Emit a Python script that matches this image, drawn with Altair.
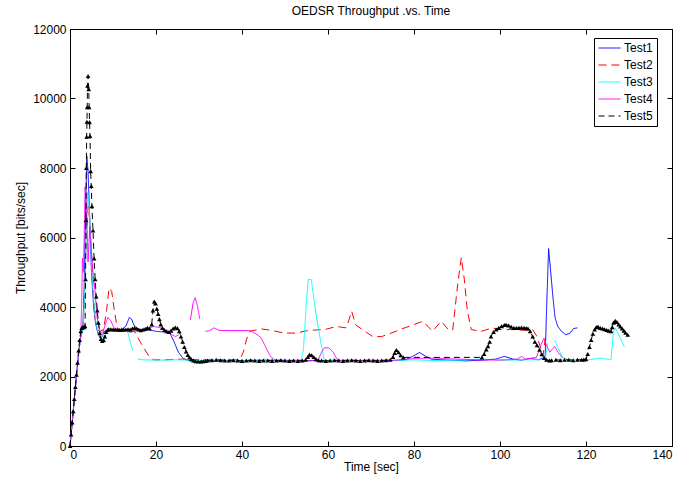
import altair as alt
import pandas as pd

SERIES = ["Test1", "Test2", "Test3", "Test4", "Test5"]
COLORS = ["#0000ff", "#ff0000", "#00ffff", "#ff00ff", "#000000"]
DASHES = [[1, 0], [8, 5], [1, 0], [1, 0], [6, 4]]
XTICKS = [0, 20, 40, 60, 80, 100, 120, 140]
YTICKS = [0, 2000, 4000, 6000, 8000, 10000, 12000]

# (time [sec], throughput [bits/sec]); None marks a gap in the recorded trace
test1 = [(0, 0), (0.5, 650), (1, 1350), (1.5, 2000), (2, 2650), (2.5, 3150), (3, 3400), (3.3, 4600),
         (3.6, 6600), (3.9, 8350), (4.2, 7900), (4.6, 6500), (5, 5000), (5.5, 4000), (6, 3500), (6.5, 3250),
         (7, 3100), (7.5, 3150), (8, 3300), (9, 3350), (10, 3350), (12, 3350), (13, 3450), (13.8, 3700),
         (14.3, 3650), (15, 3450), (16, 3350), (18, 3350), (20, 3300), (22, 3280), (23.2, 3250), (24.2, 3000),
         (25.2, 2700), (26.3, 2520), (27.5, 2460), (29, 2440), (32, 2450), (36, 2460), (40, 2450), (45, 2470),
         (50, 2450), (55, 2460), (60, 2450), (65, 2470), (70, 2450), (75, 2460), (78, 2480), (80, 2600),
         (81.3, 2690), (82.5, 2600), (84, 2500), (88, 2470), (92, 2450), (96, 2470), (99, 2500), (101, 2580),
         (103, 2500), (105, 2470), (107, 2520), (109, 2480), (110.5, 2560), (110.9, 4200), (111.3, 5680),
         (111.8, 5000), (112.3, 4300), (112.8, 3700), (113.4, 3450), (114.3, 3300), (115.3, 3200),
         (116.3, 3250), (117.1, 3380), (118, 3400)]

test2 = [(0, 0), (0.5, 650), (1, 1350), (1.5, 2000), (2, 2650), (2.5, 3150), (3, 3350), (3.4, 4500),
         (3.8, 6000), (4.2, 6900), (4.6, 6500), (5, 5500), (5.4, 4400), (5.8, 3700), (6.3, 3350), (7, 3300),
         (7.8, 3350), (8.5, 3900), (9.1, 4550), (9.7, 4450), (10.3, 3900), (11, 3400), (12, 3300),
         (13.5, 3280), (15, 3300), (16.3, 3000), (17.3, 2800), (18.5, 2550), (19.5, 2480), (22, 2480),
         (26, 2500), (30, 2480), (35, 2480), (39.5, 2480), (40.3, 2700), (41, 3050), (41.8, 3300),
         (44.4, 3370), (46.8, 3330), (49.8, 3250), (52.5, 3250), (55.7, 3330), (59.2, 3350), (62, 3440),
         (64.2, 3400), (64.8, 3600), (65.5, 3880), (66.4, 3490), (68, 3350), (70.4, 3150), (72.5, 3150),
         (75.8, 3300), (76.7, 3350), (79, 3450), (82.1, 3590), (84.3, 3300), (86.3, 3590), (88, 3350),
         (89, 3330), (90.2, 4700), (91, 5420), (91.7, 4800), (92.4, 3900), (93.3, 3350), (95.6, 3300),
         (98.3, 3400), (100, 3350), (103, 3350), (105.5, 3330), (107.6, 3350), (108.6, 3150), (109.4, 2850),
         (110, 2600), (110.6, 3150)]

test3 = [(0, 0), (0.5, 650), (1, 1350), (1.5, 2000), (2, 2650), (2.5, 3150), (3, 3350), (3.4, 4300),
         (3.8, 6200), (4.1, 7300), (4.5, 6800), (5, 5300), (5.5, 4200), (6, 3600), (6.5, 3300), (7, 3200),
         (7.5, 3150), (8, 3250), (9, 3350), (11, 3350), (13, 3330), (13.5, 3250), (14, 3000), (14.6, 2750),
         None,
         (15.8, 2500), (17, 2480), (20, 2470), (25, 2480), (30, 2460), (35, 2470), (40, 2460), (45, 2480),
         (50, 2470), (53.8, 2480), (54.3, 2800), (55, 4200), (55.4, 4790), (56.1, 4790), (57.3, 3730),
         (58.3, 3000), (59.2, 2430), (60, 2470), (66, 2460), (70, 2480), (75, 2460), (80, 2480), (85, 2460),
         (90, 2470), (95.6, 2500), (96.5, 2700), (97.2, 2900),
         None,
         (99, 2480), (102, 2470), (106, 2480), (109, 2480), (110.5, 2500), (111.1, 2950),
         None,
         (112.7, 3050), (113.6, 2800), (114.6, 2540), (116, 2480), (120, 2470), (123.5, 2530),
         (125.8, 2480), (126.4, 3300), (126.8, 3400), (127.8, 3150), (128.9, 2860)]

test4 = [(0, 0), (0.5, 650), (1, 1350), (1.5, 2000), (2, 2650), (2.5, 3200), (2.7, 4000), (2.9, 5400),
         (3.1, 5000), (3.3, 6000), (3.5, 7450), (3.8, 7000), (4.2, 5300), (4.6, 6300), (5, 5600), (5.4, 4900),
         (5.8, 4500), (6.3, 3700), (7, 3300), (7.6, 3250), (8.2, 3500), (8.8, 3700), (9.5, 3600),
         (10.3, 3380), (11, 3350), (13, 3350), (14, 3280), (15, 3300), (17, 3350), (18.5, 3400), (19.5, 3440),
         (21, 3400), (22.5, 3300), (23.5, 3220), (24.5, 3150), (25.3, 3200),
         None,
         (28, 3630), (28.6, 4100), (29.1, 4270), (29.6, 4050), (30.2, 3650),
         None,
         (31.5, 3300), (32.5, 3320), (33.5, 3400), (34.6, 3330), (37, 3320), (40, 3320), (41.8, 3320),
         (43, 3250), (44.4, 3120), (45.5, 2850), (46.6, 2580), (47.6, 2480), (48.7, 2440), (52, 2450),
         (56, 2450), (57.8, 2500), (58.5, 2700), (59.2, 2830), (60.2, 2820), (61.2, 2700), (62, 2520),
         (63, 2450), (68, 2460), (72, 2450), (76, 2470), (80, 2520), (85, 2530), (90, 2500), (95, 2480),
         (100, 2470), (104, 2500), (105, 2576), (106, 2500), (108.5, 2550), (109.5, 2900), (110.2, 3100),
         (110.8, 2900), (111.6, 2700), (112.7, 2865), (113.5, 2700), (114.6, 2530)]

test5 = [(0, 0), (0.25, 330), (0.5, 680), (0.75, 1000), (1, 1350), (1.25, 1700), (1.5, 2050), (1.75, 2400),
         (2, 2750), (2.25, 3050), (2.5, 3300), (2.75, 3400), (3, 3420), (3.25, 3420), (3.5, 3450),
         (3.62, 4800), (3.72, 6500), (3.8, 8000), (3.87, 8900), (3.94, 9330), (4.0, 9750), (4.07, 10370),
         (4.2, 10650), (4.35, 10270), (4.45, 9750), (4.55, 9320), (4.65, 8920), (4.8, 7910), (4.95, 7480),
         (5.1, 6900), (5.35, 6200), (5.6, 5400), (5.85, 4800), (6.1, 4300), (6.35, 3900), (6.6, 3550),
         (6.9, 3250), (7.2, 3080), (7.5, 3020), (7.8, 3050), (8.1, 3150), (8.4, 3280), (8.7, 3340),
         (9.0, 3360), (9.5, 3360), (10, 3350), (10.5, 3350), (11, 3350), (11.5, 3340), (12, 3350),
         (12.5, 3350), (13, 3350), (13.5, 3360), (14, 3350), (14.5, 3380), (15, 3400), (15.5, 3380),
         (16, 3350), (16.5, 3330), (17, 3350), (17.5, 3370), (18, 3400), (18.5, 3380), (19, 3500),
         (19.3, 3900), (19.6, 4160), (19.9, 4100), (20.2, 3950), (20.5, 3800), (20.8, 3650), (21.1, 3500),
         (21.5, 3400), (22, 3340), (22.5, 3300), (23, 3280), (23.5, 3320), (24, 3380), (24.5, 3410),
         (25, 3390), (25.4, 3300), (25.8, 3150), (26.2, 3000), (26.6, 2850), (27, 2720), (27.4, 2620),
         (27.8, 2550), (28.2, 2500), (28.7, 2460), (29.2, 2440), (29.8, 2430), (30.5, 2430), (31, 2440),
         (31.5, 2450), (32, 2460), (33, 2470), (34, 2480), (35, 2470), (36, 2460), (37, 2460), (38, 2470),
         (39, 2460), (40, 2450), (41, 2460), (42, 2470), (43, 2460), (44, 2450), (45, 2460), (46, 2460),
         (47, 2450), (48, 2460), (49, 2470), (50, 2460), (51, 2450), (52, 2460), (53, 2450), (54, 2460),
         (54.8, 2480), (55.3, 2560), (55.7, 2630), (56.2, 2610), (56.7, 2560), (57.2, 2500), (57.8, 2470),
         (58.5, 2460), (59.5, 2450), (60.5, 2460), (61.5, 2470), (62.5, 2460), (63.5, 2450), (64.5, 2460),
         (65.5, 2470), (66.5, 2460), (67.5, 2450), (68.5, 2460), (69.5, 2470), (70.5, 2460), (71.5, 2450),
         (72.5, 2460), (73.5, 2470), (74.5, 2480), (75.1, 2560), (75.5, 2680), (75.9, 2760), (76.4, 2700),
         (76.9, 2610), (77.5, 2550), (95.8, 2550), (96.3, 2650), (96.8, 2780), (97.2, 2870), (97.6, 3000),
         (97.9, 3150), (98.5, 3280), (99.1, 3350), (99.7, 3400), (100.4, 3450), (101, 3480), (101.4, 3490),
         (102, 3470), (102.6, 3430), (103.2, 3400), (103.8, 3395), (104.4, 3400), (105, 3410), (105.6, 3400),
         (106.1, 3390), (106.5, 3380), (107, 3300), (107.6, 3150), (108.1, 3000), (108.6, 2900),
         (109.2, 2770), (109.7, 2640), (110.3, 2530), (110.8, 2480), (111.5, 2460), (112, 2470), (113, 2480),
         (114, 2470), (115, 2480), (116, 2480), (117, 2470), (118, 2480), (119, 2480), (119.5, 2490),
         (120, 2500), (120.4, 2650), (120.8, 2850), (121.2, 3050), (121.6, 3230), (122, 3350), (122.4, 3420),
         (122.8, 3430), (123.3, 3400), (123.8, 3380), (124.3, 3360), (124.8, 3340), (125.3, 3320),
         (125.8, 3300), (126.1, 3420), (126.4, 3550), (126.8, 3600), (127.2, 3570), (127.6, 3500),
         (128, 3440), (128.4, 3380), (128.8, 3320), (129.2, 3260), (129.7, 3200)]

rows = []
for name, pts in zip(SERIES, [test1, test2, test3, test4, test5]):
    seg = 0
    for i, p in enumerate(pts):
        if p is None:
            seg += 1
            continue
        rows.append({"series": name, "t": p[0], "v": p[1], "seg": f"{name}-{seg}", "order": i})
df = pd.DataFrame(rows)

FONT = "Liberation Sans"
xscale = alt.Scale(domain=[0, 140], nice=False, zero=False)
yscale = alt.Scale(domain=[0, 12000], nice=False)
TICK = alt.ExprRef("-5")

legend = alt.Legend(
    title=None, orient="none", legendX=524, legendY=9,
    symbolType="stroke", symbolSize=484, symbolStrokeWidth=1, clipHeight=12, rowPadding=5,
    labelFont=FONT, labelFontSize=12, labelColor="black", labelOffset=3,
    strokeColor="black", fillColor="white", padding=4, cornerRadius=0,
)

lines = alt.Chart(df).mark_line(strokeWidth=1).encode(
    x=alt.X("t:Q", scale=xscale,
            axis=alt.Axis(values=XTICKS, title="Time [sec]", tickSize=TICK, labelPadding=8,
                          titlePadding=1, format="d", grid=False)),
    y=alt.Y("v:Q", scale=yscale,
            axis=alt.Axis(values=YTICKS, title="Throughput [bits/sec]", tickSize=TICK, labelPadding=9,
                          titlePadding=5, format="d", grid=False)),
    color=alt.Color("series:N", scale=alt.Scale(domain=SERIES, range=COLORS), legend=legend),
    strokeDash=alt.StrokeDash("series:N", scale=alt.Scale(domain=SERIES, range=DASHES), legend=legend),
    detail="seg:N",
    order="order:Q",
)

markers = alt.Chart(df).transform_filter(alt.datum.series == "Test5").mark_point(
    shape="triangle-up", filled=True, size=22, color="black", opacity=1
).encode(
    x=alt.X("t:Q", scale=xscale,
            axis=alt.Axis(orient="top", values=XTICKS, labels=False, title=None, tickSize=TICK,
                          grid=False)),
    y=alt.Y("v:Q", scale=yscale,
            axis=alt.Axis(orient="right", values=YTICKS, labels=False, title=None, tickSize=TICK,
                          grid=False)),
)

chart = alt.layer(lines, markers).resolve_axis(x="independent", y="independent").properties(
    width=602, height=417,
    background="white",
    title=alt.Title("OEDSR Throughput .vs. Time", font=FONT, fontSize=12, fontWeight="normal",
                    color="black", anchor="middle", offset=5, frame="group"),
    autosize=alt.AutoSizeParams(type="none"),
    padding={"left": 70, "top": 29, "right": 13, "bottom": 33},
).configure_axis(
    grid=False, domainColor="black", domainWidth=1, tickColor="black", tickWidth=1,
    labelFont=FONT, labelFontSize=12, labelColor="black",
    titleFont=FONT, titleFontSize=12, titleFontWeight="normal", titleColor="black",
).configure_view(stroke="black", strokeWidth=1)

chart.save("out.html", embed_options={"renderer": "svg", "actions": False})
